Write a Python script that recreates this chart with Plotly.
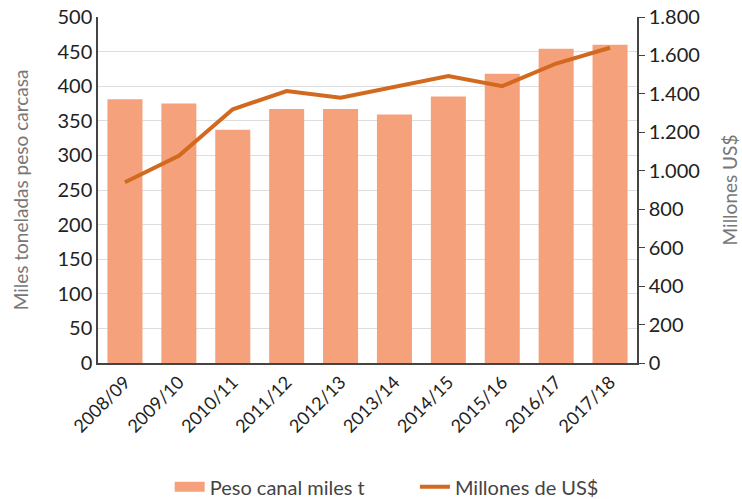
import plotly.graph_objects as go

categories = ["2008/09", "2009/10", "2010/11", "2011/12", "2012/13",
              "2013/14", "2014/15", "2015/16", "2016/17", "2017/18"]
peso_canal = [381, 375, 337, 367, 367, 359, 385, 418, 454, 460]
millones_usd = [940, 1078, 1320, 1415, 1380, 1436, 1493, 1440, 1558, 1640]

left_ticks = [0, 50, 100, 150, 200, 250, 300, 350, 400, 450, 500]
right_ticks = [0, 200, 400, 600, 800, 1000, 1200, 1400, 1600, 1800]

bar_color = "#F5A27C"
line_color = "#D2691E"
font_family = "Lato, 'Open Sans', sans-serif"

fig = go.Figure()
fig.add_trace(go.Bar(
    x=categories, y=peso_canal, name="Peso canal miles t",
    marker=dict(color=bar_color, line=dict(width=0)), yaxis="y",
    showlegend=False))
# legend entry for the bars drawn as a wide swatch
fig.add_trace(go.Scatter(
    x=[None], y=[None], name="Peso canal miles t", mode="lines",
    line=dict(color=bar_color, width=13), legend="legend", yaxis="y"))
fig.add_trace(go.Scatter(
    x=categories, y=millones_usd, name="Millones de US$",
    mode="lines", line=dict(color=line_color, width=4), yaxis="y2",
    legend="legend2"))

legend_font = dict(size=20, color="#444444")
fig.update_layout(
    width=742, height=499,
    margin=dict(l=98, r=105, t=17, b=136, autoexpand=False),
    paper_bgcolor="white", plot_bgcolor="white",
    separators=",.",
    font=dict(family=font_family, size=16, color="#222222"),
    bargap=0.35,
    showlegend=True,
    legend=dict(orientation="h", x=0.133, xanchor="left", y=-0.358, yanchor="middle",
                font=legend_font, bgcolor="rgba(0,0,0,0)"),
    legend2=dict(orientation="h", x=0.588, xanchor="left", y=-0.358, yanchor="middle",
                 font=legend_font, bgcolor="rgba(0,0,0,0)"),
    xaxis=dict(
        tickangle=-45, tickfont=dict(size=18, color="#222222"),
        showline=True, linecolor="#444444", linewidth=1.5,
        showgrid=False, ticks="", automargin=False),
    yaxis=dict(
        range=[0, 500], tickvals=left_ticks,
        showline=True, linecolor="#444444", linewidth=1.5,
        showgrid=True, gridcolor="#DDDDDD", gridwidth=1,
        ticks="", tickfont=dict(size=20, color="#222222"),
        title=dict(text="Miles toneladas peso carcasa",
                   font=dict(size=19, color="#777777"), standoff=24),
        zeroline=False, automargin=False),
    yaxis2=dict(
        range=[0, 1800], tickvals=right_ticks, tickformat=",d",
        overlaying="y", side="right",
        showline=True, linecolor="#444444", linewidth=1.5,
        showgrid=False, ticks="outside", ticklen=6, tickcolor="#444444",
        tickfont=dict(size=20, color="#222222"),
        title=dict(text="Millones US$", font=dict(size=19, color="#777777"), standoff=25),
        zeroline=False, automargin=False),
)

fig.write_html("out.html", config={"displayModeBar": False},
               post_script="document.body.style.margin='0';")
